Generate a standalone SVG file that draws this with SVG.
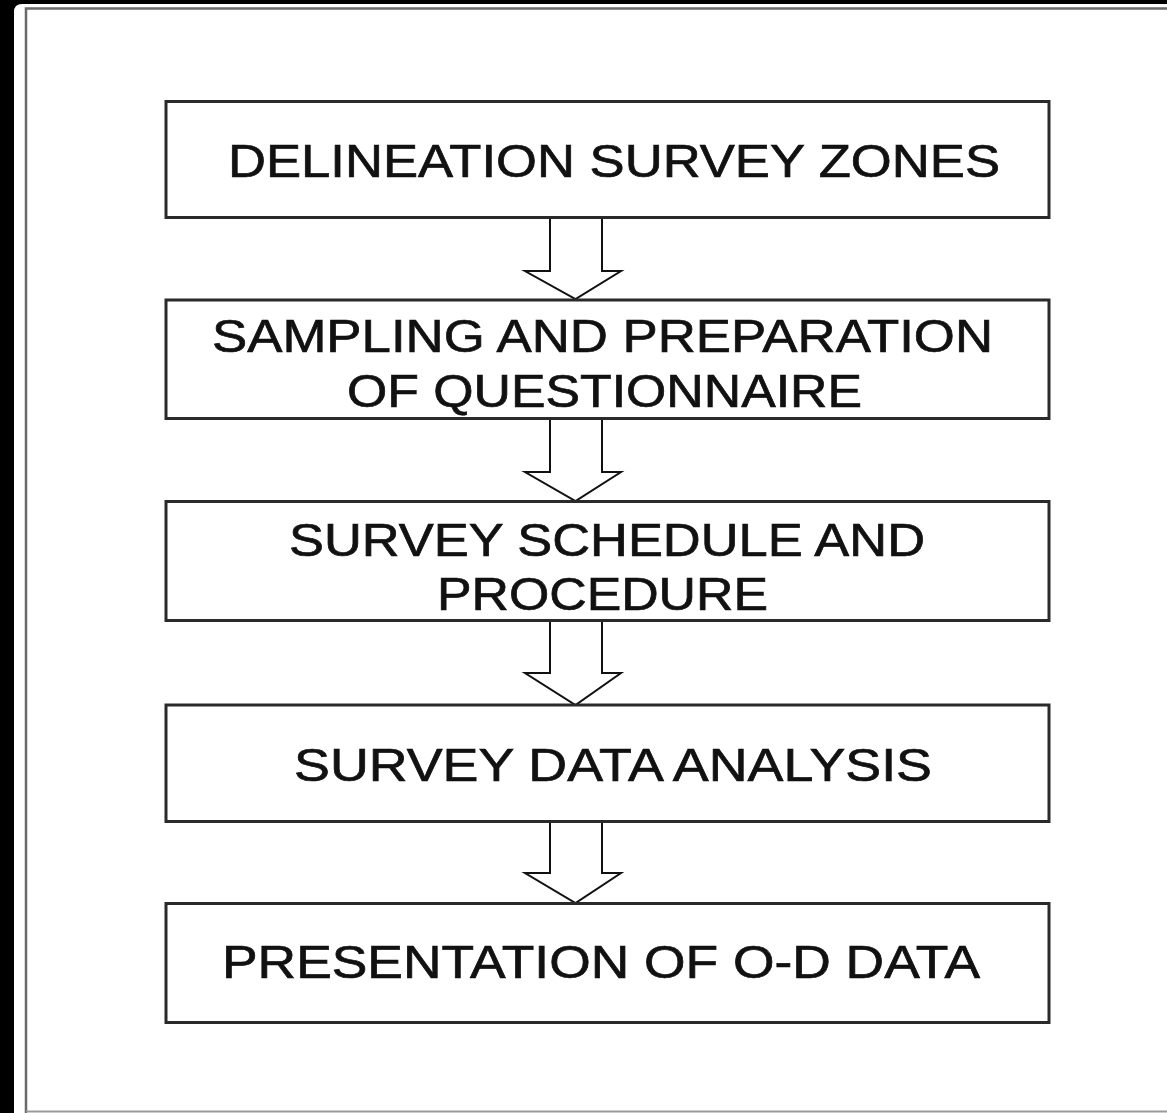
<svg xmlns="http://www.w3.org/2000/svg" width="1167" height="1113" viewBox="0 0 1167 1113">
<style>
.box{fill:#fff;stroke:#2a2a2a;stroke-width:3}
.lbl{font-family:"Liberation Sans",Arial,sans-serif;font-size:47px;fill:#111;stroke:#111;stroke-width:0.7;text-anchor:start}
.arr{fill:#fff;stroke:#111;stroke-width:2;stroke-linejoin:miter}
.frame{stroke:#6a6a6a;stroke-width:2.5;fill:none}
</style>
<rect x="0" y="0" width="1167" height="1113" fill="#000"/>
<path d="M22,4 H1167 V1113 H14 V12 Q14,4 22,4 Z" fill="#fff"/>
<path class="frame" d="M26,1113 V8.5 H1167"/>
<line x1="26" y1="1111.5" x2="1167" y2="1111.5" stroke="#999" stroke-width="2"/>
<g id="connectors">
<path class="arr" d="M550,218 V271 H525 L575.5,299 L621,271 H602 V218"/>
<path class="arr" d="M550,419 V472 H525 L575.5,501 L621,472 H602 V419"/>
<path class="arr" d="M550,621 V673 H525 L575.5,705 L621,673 H602 V621"/>
<path class="arr" d="M550,822 V873 H525 L575.5,903 L621,873 H602 V822"/>
</g>
<g id="n1">
<rect class="box" x="166" y="101.5" width="883" height="116"/>
<text class="lbl" x="228" y="177" textLength="772" lengthAdjust="spacingAndGlyphs">DELINEATION SURVEY ZONES</text>
</g>
<g id="n2">
<rect class="box" x="166" y="300" width="883" height="118.5"/>
<text class="lbl" x="212" y="352" textLength="781" lengthAdjust="spacingAndGlyphs">SAMPLING AND PREPARATION</text>
<text class="lbl" x="347" y="407" textLength="515" lengthAdjust="spacingAndGlyphs">OF QUESTIONNAIRE</text>
</g>
<g id="n3">
<rect class="box" x="166" y="501.5" width="883" height="119"/>
<text class="lbl" x="289" y="556" textLength="636" lengthAdjust="spacingAndGlyphs">SURVEY SCHEDULE AND</text>
<text class="lbl" x="437" y="610" textLength="331" lengthAdjust="spacingAndGlyphs">PROCEDURE</text>
</g>
<g id="n4">
<rect class="box" x="166" y="705" width="883" height="116.5"/>
<text class="lbl" x="294" y="781" textLength="638" lengthAdjust="spacingAndGlyphs">SURVEY DATA ANALYSIS</text>
</g>
<g id="n5">
<rect class="box" x="166" y="903.5" width="883" height="119"/>
<text class="lbl" x="222" y="978" textLength="758" lengthAdjust="spacingAndGlyphs">PRESENTATION OF O-D DATA</text>
</g>
</svg>
